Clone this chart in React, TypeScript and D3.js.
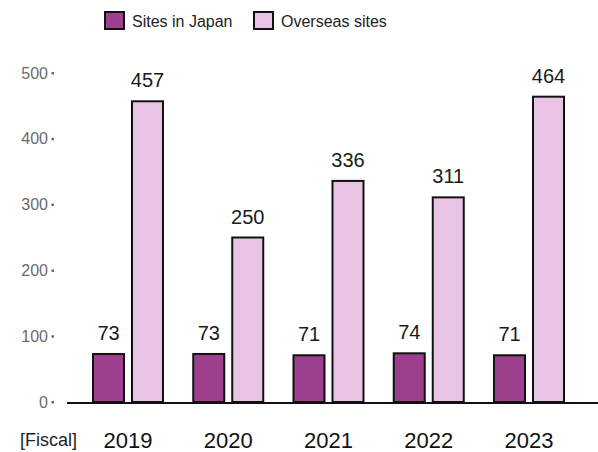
import React from "react";
import * as d3 from "d3";

const years = ["2019", "2020", "2021", "2022", "2023"];
const sitesInJapan = [73, 73, 71, 74, 71];
const overseasSites = [457, 250, 336, 311, 464];
const seriesNames = ["Sites in Japan", "Overseas sites"];
const seriesColors = ["#9c408d", "#e9c3e3"];
const yTicks = [0, 100, 200, 300, 400, 500];

const W = 598;
const H = 452;
const FONT = "'Liberation Sans', Arial, Helvetica, sans-serif";

export default function App() {
  const y = d3.scaleLinear().domain([0, 500]).range([402, 73]);
  const x = d3.scalePoint<string>().domain(years).range([128, 529]);
  const groupW = 70;
  const xs = d3
    .scaleBand<number>()
    .domain([0, 1])
    .range([0, groupW])
    .paddingInner(0.2051)
    .paddingOuter(0);
  const series = [sitesInJapan, overseasSites];

  return (
    <svg
      width={W}
      height={H}
      style={{ position: "absolute", left: 0, top: 0 }}
      fontFamily={FONT}
    >
      <rect width={W} height={H} fill="#fff" />
      {/* legend */}
      <g>
        <rect x={105} y={12} width={19} height={17} fill={seriesColors[0]} stroke="#111" strokeWidth={2} />
        <text x={132} y={27} fontSize={16} fill="#222">{seriesNames[0]}</text>
        <rect x={254} y={12} width={19} height={17} fill={seriesColors[1]} stroke="#111" strokeWidth={2} />
        <text x={281} y={27} fontSize={16} fill="#222">{seriesNames[1]}</text>
      </g>
      {/* y axis ticks */}
      {yTicks.map((t) => (
        <g key={t}>
          <text x={48} y={y(t)} dy="0.35em" textAnchor="end" fontSize={16} fill="#6b6b6b">
            {t}
          </text>
          <rect x={51.5} y={y(t) - 1} width={2.5} height={2.5} fill="#6b6b6b" />
        </g>
      ))}
      {/* bars */}
      {years.map((yr, i) => {
        const gx = (x(yr) as number) - groupW / 2;
        return (
          <g key={yr}>
            {series.map((vals, s) => {
              const bx = gx + (xs(s) as number);
              const bw = xs.bandwidth();
              const top = y(vals[i]);
              return (
                <g key={s}>
                  <rect
                    x={bx}
                    y={top}
                    width={bw}
                    height={y(0) - top}
                    fill={seriesColors[s]}
                    stroke="#111"
                    strokeWidth={2}
                  />
                  <text
                    x={bx + bw / 2}
                    y={top - 14}
                    textAnchor="middle"
                    fontSize={20}
                    fill="#1a1a1a"
                  >
                    {vals[i]}
                  </text>
                </g>
              );
            })}
            <text
              x={x(yr) as number}
              y={448}
              textAnchor="middle"
              fontSize={22}
              fill="#111"
            >
              {yr}
            </text>
          </g>
        );
      })}
      {/* baseline */}
      <line x1={67} x2={598} y1={y(0) + 1} y2={y(0) + 1} stroke="#111" strokeWidth={2} />
      <text x={20} y={446} fontSize={18} fill="#222">[Fiscal]</text>
    </svg>
  );
}
